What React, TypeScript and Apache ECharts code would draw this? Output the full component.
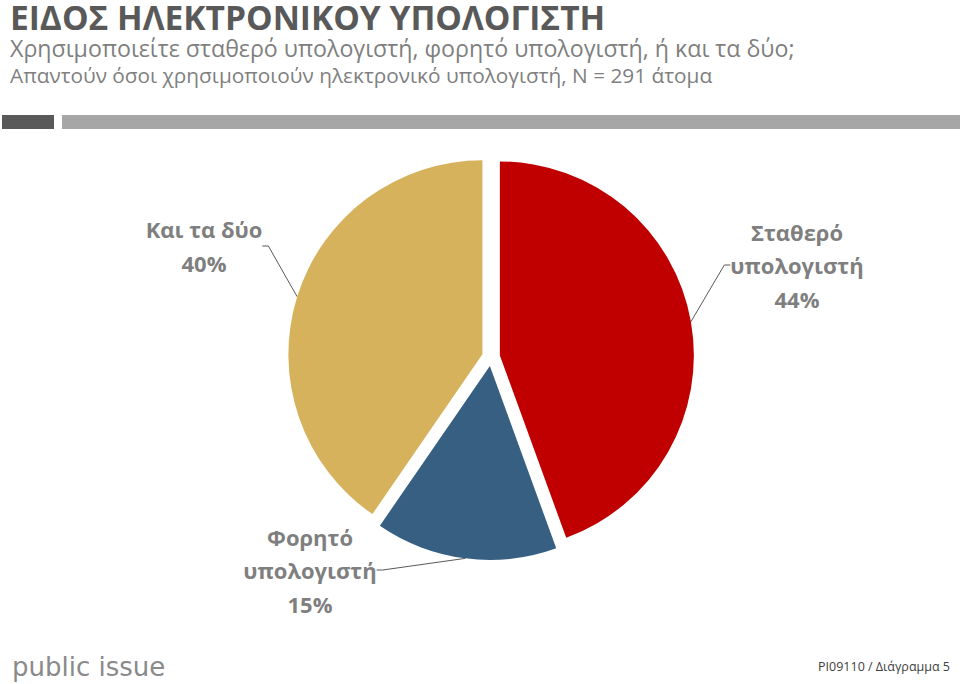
import React, { useEffect, useRef } from 'react';
import * as echarts from 'echarts';

const titleText = 'ΕΙΔΟΣ ΗΛΕΚΤΡΟΝΙΚΟΥ ΥΠΟΛΟΓΙΣΤΗ';
const subtitleLines = [
  'Χρησιμοποιείτε σταθερό υπολογιστή, φορητό υπολογιστή, ή και τα δύο;',
  'Απαντούν όσοι χρησιμοποιούν ηλεκτρονικό υπολογιστή, N = 291 άτομα',
];
const categories = ['Σταθερό\nυπολογιστή', 'Φορητό\nυπολογιστή', 'Και τα δύο'];
const values = [44, 15, 40];
const colors = ['#C00000', '#365F82', '#D7B25D'];
const footerText = 'PI09110 / Διάγραμμα 5';
const logoText = 'public issue';

const labelPositions: number[][] = [
  [797, 265],
  [310, 570],
  [204, 246],
];

const FONT = 'Open Sans';
const CENTER = [491, 357];
const RADIUS = 194;
const EXPLODE = 9;

export default function App() {
  const ref = useRef<HTMLDivElement>(null);
  useEffect(() => {
    if (!ref.current) return;
    const chart = echarts.init(ref.current, undefined, { renderer: 'svg' });
    const total = values.reduce((a, b) => a + b, 0);
    let cum = 0;
    const series = values.map((v, i) => {
      const mid = ((cum + v / 2) / total) * Math.PI * 2;
      cum += v;
      const cx = CENTER[0] + Math.sin(mid) * EXPLODE;
      const cy = CENTER[1] - Math.cos(mid) * EXPLODE;
      return {
        type: 'pie',
        center: [cx, cy],
        radius: RADIUS,
        startAngle: 90,
        clockwise: true,
        silent: true,
        emphasis: { disabled: true },
        avoidLabelOverlap: false,
        data: categories.map((c, j) => ({
          name: c,
          value: values[j],
          itemStyle: { color: j === i ? colors[j] : 'rgba(0,0,0,0)' },
          label: { show: j === i },
          labelLine: { show: j === i },
        })),
        label: {
          formatter: '{b}\n{c}%',
          fontFamily: FONT,
          fontWeight: 'bold',
          fontSize: 22,
          lineHeight: 33.5,
          color: '#7f7f7f',
          align: 'center',
        },
        labelLine: {
          length: 20,
          length2: 6,
          lineStyle: { color: '#595959', width: 1 },
        },
        labelLayout: (p: any) => ({
          x: labelPositions[p.dataIndex][0],
          y: labelPositions[p.dataIndex][1],
          align: 'center',
          verticalAlign: 'middle',
        }),
      };
    });
    chart.setOption({
      animation: false,
      backgroundColor: '#ffffff',
      graphic: [
        {
          type: 'text',
          left: 10,
          top: 0,
          style: { text: titleText, font: `bold 33.5px "${FONT}"`, fill: '#595959', lineHeight: 33 },
        },
        {
          type: 'text',
          left: 10,
          top: 35,
          style: { text: subtitleLines[0], font: `23.2px "${FONT}"`, fill: '#7f7f7f', lineHeight: 25 },
        },
        {
          type: 'text',
          left: 10,
          top: 63,
          style: { text: subtitleLines[1], font: `20.8px "${FONT}"`, fill: '#7f7f7f', lineHeight: 23 },
        },
        { type: 'rect', shape: { x: 2, y: 115, width: 52, height: 14 }, style: { fill: '#595959' } },
        { type: 'rect', shape: { x: 62, y: 115, width: 898, height: 14 }, style: { fill: '#a6a6a6' } },
        {
          type: 'text',
          left: 12,
          top: 654,
          style: { text: logoText, font: `26px "DejaVu Sans"`, fill: '#8a8a8a' },
        },
        {
          type: 'text',
          right: 10,
          top: 660,
          style: { text: footerText, font: `12.5px "${FONT}"`, fill: '#404040' },
        },
      ],
      series,
    });
    return () => chart.dispose();
  }, []);
  return (
    <div
      ref={ref}
      style={{ position: 'fixed', left: 0, top: 0, width: 960, height: 684 }}
    />
  );
}
